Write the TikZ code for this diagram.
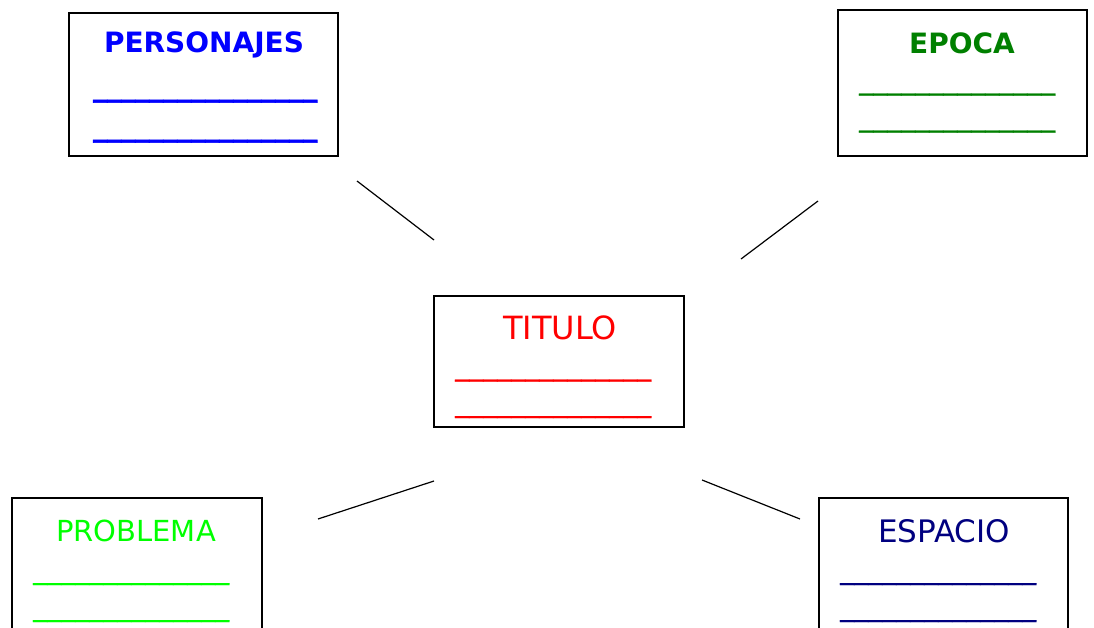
\documentclass[tikz,border=0pt]{standalone}
\usepackage{fontspec}
\setmainfont{DejaVu Sans}
\newfontfamily\heavyfont[FakeBold=2.5]{DejaVu Sans Bold}
\newfontfamily\midfont[FakeBold=0.8]{DejaVu Sans}
\definecolor{cblue}{RGB}{0,0,255}
\definecolor{cgreen}{RGB}{0,128,0}
\definecolor{cred}{RGB}{255,0,0}
\definecolor{clime}{RGB}{0,255,0}
\definecolor{cnavy}{RGB}{0,0,128}
\tikzset{
  box/.style={draw=black, line width=1.6pt, fill=white, inner sep=0pt},
  conn/.style={draw=black, line width=1.2pt},
  ttl/.style={inner sep=0pt, font=\fontsize{29}{30}\selectfont},
  ttlb/.style={inner sep=0pt, font=\fontsize{28}{30}\selectfont\bfseries},
  uline/.style={inner sep=0pt, anchor=base west, font=\fontsize{28}{30}\midfont},
  ulineb/.style={inner sep=0pt, anchor=base west, font=\fontsize{28}{30}\heavyfont},
}
\newcommand{\usc}[1]{\foreach \i in {1,...,#1}{\_}}
\begin{document}
\begin{tikzpicture}[x=1pt,y=-1pt]
\useasboundingbox[fill=white] (0,0) rectangle (1094,628);
% boxes
\node[box, minimum width=269pt, minimum height=143pt] (pers) at (203.5,84.5) {};
\node[box, minimum width=249pt, minimum height=146pt] (epoca) at (962.5,83) {};
\node[box, minimum width=250pt, minimum height=131pt] (titulo) at (559,361.5) {};
\node[box, minimum width=250pt, minimum height=150pt] (prob) at (137,573) {};
\node[box, minimum width=249pt, minimum height=150pt] (esp) at (943.5,573) {};
% titles
\node[ttlb, text=cblue] (perst) at (204,45) {PERSONAJES};
\node[ttlb, text=cgreen] (epocat) at (962,43) {EPOCA};
\node[ttl, text=cred, font=\fontsize{32}{33}\selectfont] (titulot) at (560,328) {TITULO};
\node[ttl, text=clime] (probt) at (136,531) {PROBLEMA};
\node[ttl, text=cnavy, font=\fontsize{31}{32}\selectfont] (espt) at (944,531) {ESPACIO};
% underscore lines
\node[ulineb, text=cblue] (persl1) at (93,96) {\usc{16}};
\node[ulineb, text=cblue] (persl2) at (93,136) {\usc{16}};
\node[uline, text=cgreen] (epocal1) at (859,89) {\usc{14}};
\node[uline, text=cgreen] (epocal2) at (859,126) {\usc{14}};
\node[uline, text=cred] (titulol1) at (455,375) {\usc{14}};
\node[uline, text=cred] (titulol2) at (455,411.5) {\usc{14}};
\node[uline, text=clime] (probl1) at (33,578.5) {\usc{14}};
\node[uline, text=clime] (probl2) at (33,615.5) {\usc{14}};
\node[uline, text=cnavy] (espl1) at (840,578.5) {\usc{14}};
\node[uline, text=cnavy] (espl2) at (840,615.5) {\usc{14}};
% connectors
\coordinate (c1a) at (357,181); \coordinate (c1b) at (434,240);
\coordinate (c2a) at (818,201); \coordinate (c2b) at (741,259);
\coordinate (c3a) at (434,481); \coordinate (c3b) at (318,519);
\coordinate (c4a) at (702,480); \coordinate (c4b) at (800,519);
\draw[conn] (c1a) -- (c1b);
\draw[conn] (c2a) -- (c2b);
\draw[conn] (c3a) -- (c3b);
\draw[conn] (c4a) -- (c4b);
\end{tikzpicture}
\end{document}
